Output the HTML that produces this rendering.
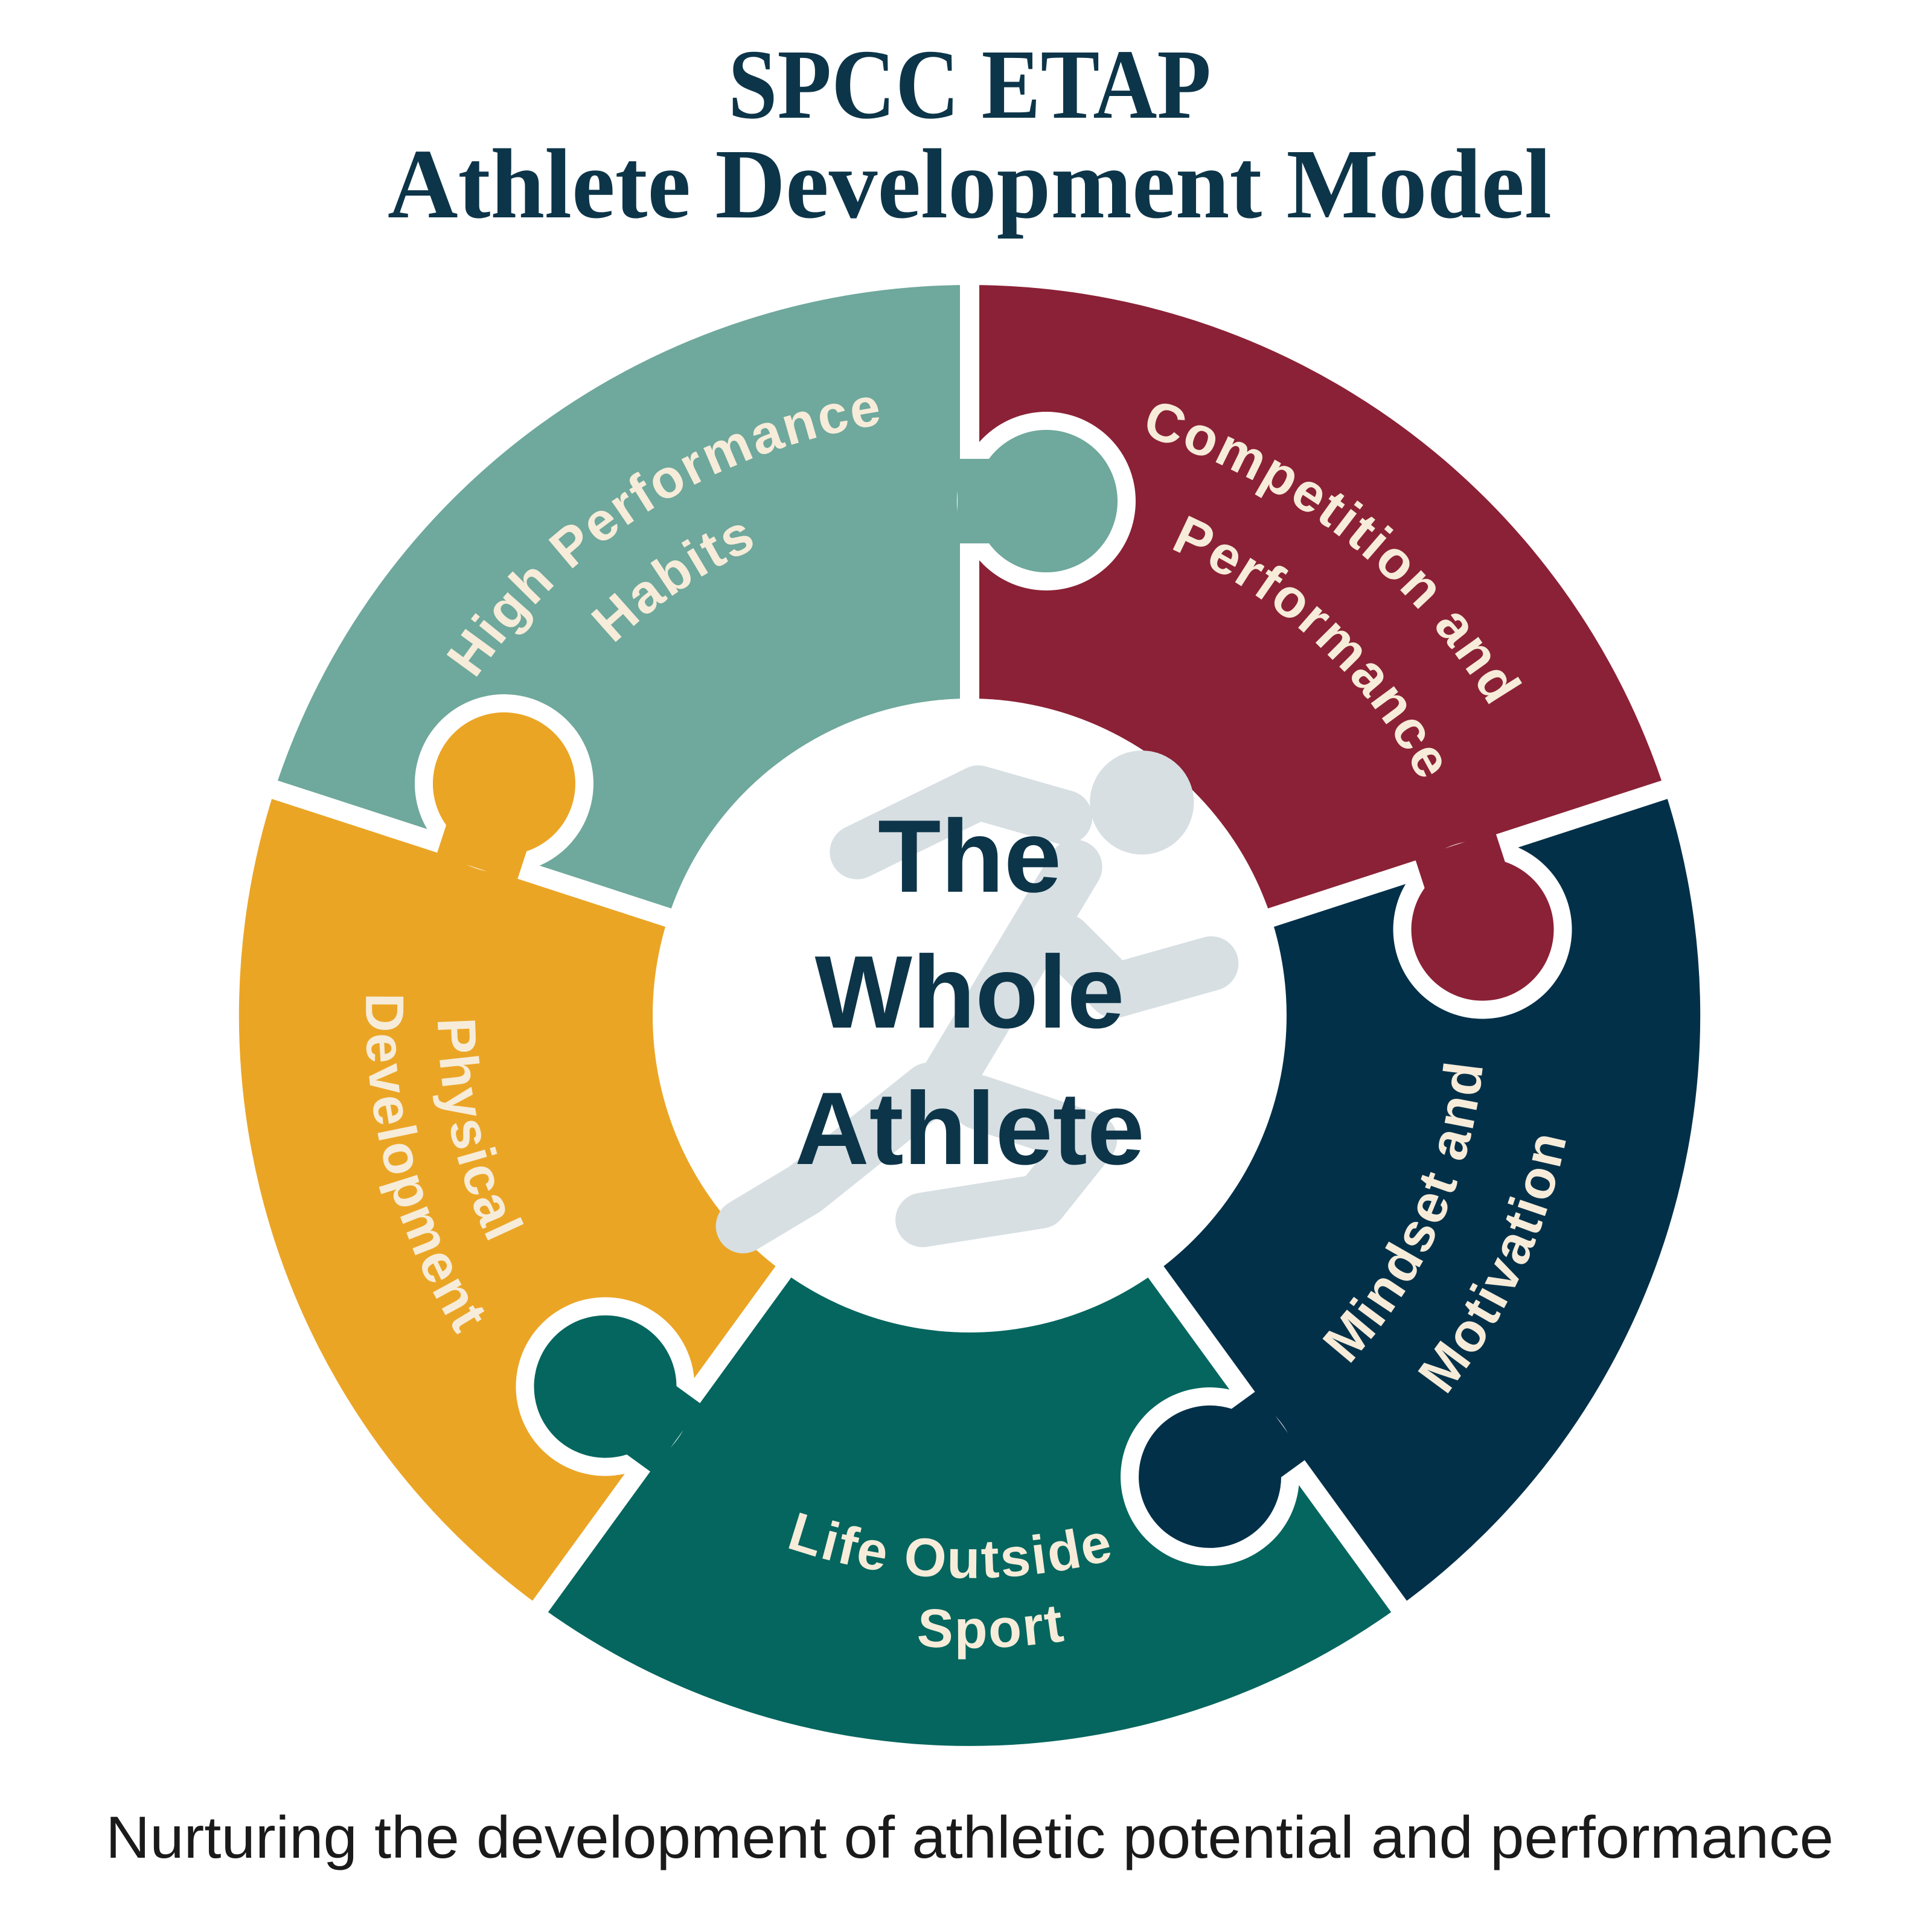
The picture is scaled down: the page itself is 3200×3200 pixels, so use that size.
<!DOCTYPE html>
<html><head><meta charset="utf-8"><style>html,body{margin:0;padding:0;background:#fff}svg{display:block}</style></head>
<body>
<svg width="3200" height="3200" viewBox="0 0 3200 3200" xmlns="http://www.w3.org/2000/svg">
<rect width="3200" height="3200" fill="#fff"/>
<text x="1606" y="195" text-anchor="middle" font-family="Liberation Serif, serif" font-weight="bold" font-size="165" fill="#0d3549" textLength="800" lengthAdjust="spacingAndGlyphs">SPCC ETAP</text>
<text x="1606" y="360" text-anchor="middle" font-family="Liberation Serif, serif" font-weight="bold" font-size="165" fill="#0d3549" textLength="1928" lengthAdjust="spacingAndGlyphs">Athlete Development Model</text>

<path d="M1606,1682 L455,1308 A1210,1210 0 0 1 1606,472 Z" fill="#6fa89c"/>
<path d="M1606,1682 L1606,472 A1210,1210 0 0 1 2757,1308 Z" fill="#8b2136"/>
<path d="M1606,1682 L2757,1308 A1210,1210 0 0 1 2317,2661 Z" fill="#033049"/>
<path d="M1606,1682 L2317,2661 A1210,1210 0 0 1 895,2661 Z" fill="#04665e"/>
<path d="M1606,1682 L895,2661 A1210,1210 0 0 1 455,1308 Z" fill="#eba525"/>

<g transform="translate(1606,1682) rotate(-90)">
<rect x="480" y="-16" width="760" height="32" fill="#fff"/>
<circle cx="852" cy="127" r="148" fill="#fff"/>
<rect x="782" y="-20" width="140" height="147" fill="#6fa89c"/><circle cx="852" cy="127" r="118" fill="#6fa89c"/>
</g>
<g transform="translate(1606,1682) rotate(-18)">
<rect x="480" y="-16" width="760" height="32" fill="#fff"/>
<circle cx="852" cy="127" r="148" fill="#fff"/>
<rect x="782" y="-20" width="140" height="147" fill="#8b2136"/><circle cx="852" cy="127" r="118" fill="#8b2136"/>
</g>
<g transform="translate(1606,1682) rotate(54)">
<rect x="480" y="-16" width="760" height="32" fill="#fff"/>
<circle cx="852" cy="127" r="148" fill="#fff"/>
<rect x="782" y="-20" width="140" height="147" fill="#033049"/><circle cx="852" cy="127" r="118" fill="#033049"/>
</g>
<g transform="translate(1606,1682) rotate(126)">
<rect x="480" y="-16" width="760" height="32" fill="#fff"/>
<circle cx="852" cy="127" r="148" fill="#fff"/>
<rect x="782" y="-20" width="140" height="147" fill="#04665e"/><circle cx="852" cy="127" r="118" fill="#04665e"/>
</g>
<g transform="translate(1606,1682) rotate(198)">
<rect x="480" y="-16" width="760" height="32" fill="#fff"/>
<circle cx="852" cy="127" r="148" fill="#fff"/>
<rect x="782" y="-20" width="140" height="147" fill="#eba525"/><circle cx="852" cy="127" r="118" fill="#eba525"/>
</g>

<circle cx="1606" cy="1682" r="525" fill="#fff"/>

<g transform="scale(2.0513)" fill="none" stroke="#d7dfe3" stroke-width="44" stroke-linecap="round" stroke-linejoin="round">
<circle cx="922" cy="648" r="42" fill="#d7dfe3" stroke="none"/>
<polyline points="692,688 790,640 860,660"/>
<polyline points="868,700 760,880"/>
<polyline points="860,760 900,800 978,778"/>
<polyline points="750,880 650,960 600,990"/>
<polyline points="790,890 880,920 840,970 745,985"/>
</g>

<g font-family="Liberation Sans, sans-serif" font-weight="bold" font-size="171" fill="#0d3549" text-anchor="middle">
<text x="1606" y="1477">The</text>
<text x="1606" y="1702">Whole</text>
<text x="1606" y="1928">Athlete</text>
</g>

<defs>
<path id="t1" d="M689,2053 A989,989 0 0 1 2341,1020"/>
<path id="t2" d="M828,2028 A851,851 0 0 1 2218,1091"/>
<path id="r1" d="M934,935 A1005,1005 0 0 1 2493,2153"/>
<path id="r2" d="M1099,1009 A843,843 0 0 1 2313,2141"/>
<path id="n1" d="M1399,2513 A857,857 0 0 0 2085,972"/>
<path id="n2" d="M1345,2657 A1009,1009 0 0 0 2185,856"/>
<path id="g1" d="M682,1812 A933,933 0 0 0 2518,1876"/>
<path id="g2" d="M582,1900 A1047,1047 0 0 0 2643,1828"/>
<path id="o1" d="M1263,873 A878,878 0 0 0 1652,2559"/>
<path id="o2" d="M1183,775 A1001,1001 0 0 0 1693,2679"/>
</defs>
<g font-family="Liberation Sans, sans-serif" font-weight="bold" font-size="90" fill="#f6ecd9" text-anchor="middle" letter-spacing="3">
<text><textPath href="#t1" startOffset="50%">High Performance</textPath></text>
<text><textPath href="#t2" startOffset="50%">Habits</textPath></text>
<text><textPath href="#r1" startOffset="50%">Competition and</textPath></text>
<text><textPath href="#r2" startOffset="50%">Performance</textPath></text>
<text><textPath href="#n1" startOffset="50%">Mindset and</textPath></text>
<text><textPath href="#n2" startOffset="50%">Motivation</textPath></text>
<text><textPath href="#g1" startOffset="50%">Life Outside</textPath></text>
<text><textPath href="#g2" startOffset="50%">Sport</textPath></text>
<text><textPath href="#o1" startOffset="50%">Physical</textPath></text>
<text><textPath href="#o2" startOffset="50%">Development</textPath></text>
</g>

<text x="175" y="3077" font-family="Liberation Sans, sans-serif" font-size="98" fill="#1a1a1a" textLength="2862" lengthAdjust="spacingAndGlyphs">Nurturing the development of athletic potential and performance</text>
</svg>
</body></html>
